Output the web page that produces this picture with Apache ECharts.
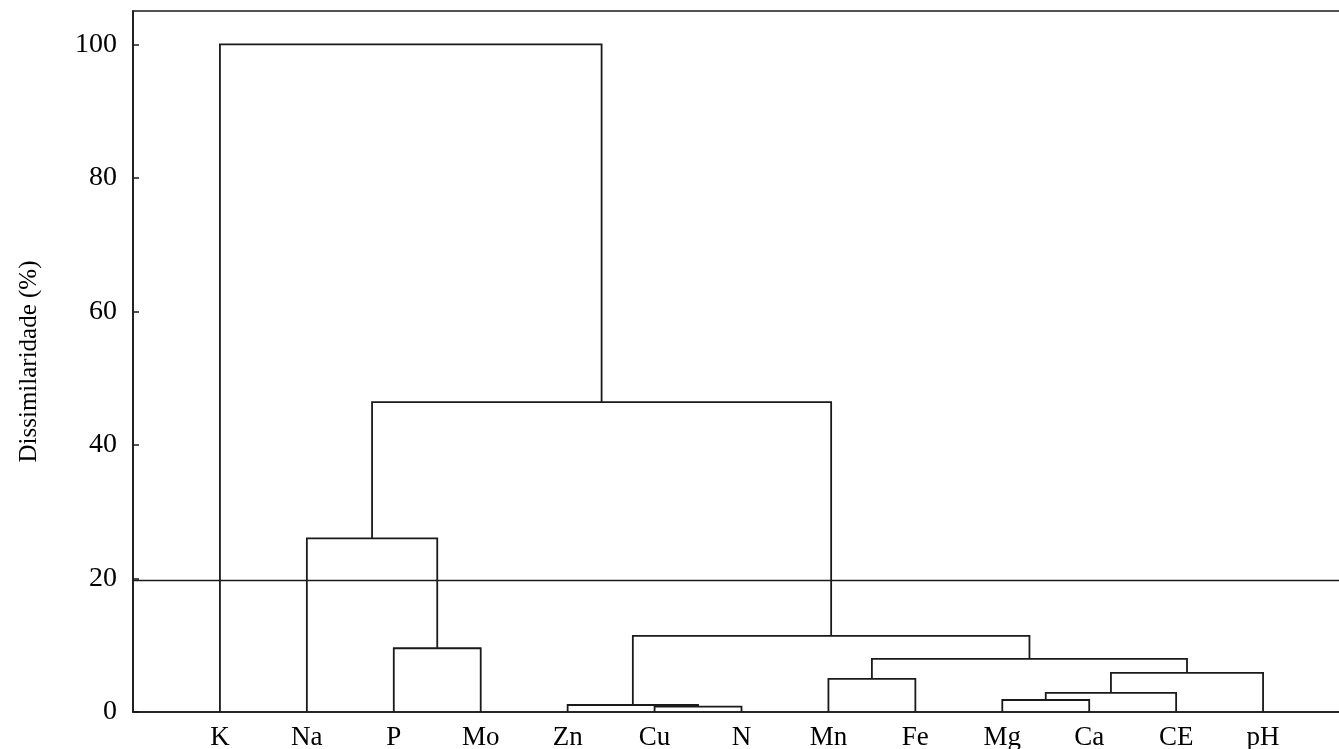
<!DOCTYPE html>
<html>
<head>
<meta charset="utf-8">
<script src="https://cdn.jsdelivr.net/npm/echarts@6/dist/echarts.min.js"></script>
<style>
    html, body { margin: 0; padding: 0; background: #fff; }
    #chart { width: 1339px; height: 749px; }
</style>
</head>
<body>
<div id="chart"></div>
<script>
// leaves in plot order (x = 1..13)
const leaves = ["K", "Na", "P", "Mo", "Zn", "Cu", "N", "Mn", "Fe", "Mg", "Ca", "CE", "pH"];
// merges: [node a, node b, height]; nodes 0-12 are leaves, merge i makes node 13+i
const merges = [
    [5, 6, 0.8],     // Cu + N
    [4, 13, 1.05],   // Zn + (Cu,N)
    [9, 10, 1.8],    // Mg + Ca
    [15, 11, 2.85],  // + CE
    [16, 12, 5.85],  // + pH
    [7, 8, 4.95],    // Mn + Fe
    [18, 17, 7.95],
    [14, 19, 11.4],
    [2, 3, 9.55],    // P + Mo
    [1, 21, 26.0],   // Na + (P,Mo)
    [22, 20, 46.4],
    [0, 23, 100],    // K + rest
];
const cutLevel = 19.7;
const yTicks = [0, 20, 40, 60, 80, 100];

const fontFamily = "Liberation Serif";
const lineColor = "#1a1a1a";

// build the dendrogram branches in data coordinates
let nodeX = leaves.map((item, i) => i + 1);
let nodeH = leaves.map(() => 0);
let branches = [];
merges.forEach(([a, b, h]) => {
    branches.push({
        coords: [[nodeX[a], nodeH[a]], [nodeX[a], h], [nodeX[b], h], [nodeX[b], nodeH[b]]],
    });
    nodeX.push((nodeX[a] + nodeX[b]) / 2);
    nodeH.push(h);
});

const chart = echarts.init(document.getElementById("chart"));
const option = {
    animation: false,
    grid: {
        left: 133,
        top: 11,
        width: 1217,
        height: 701,
        outerBoundsMode: "none",
        containLabel: false,
        show: true,
        borderColor: lineColor,
        borderWidth: 1.6,
        backgroundColor: "transparent",
    },
    xAxis: {
        type: "value",
        min: 0,
        max: leaves.length + 1,
        interval: 1,
        splitLine: { show: false },
        axisTick: { show: false },
        axisLine: { show: true, lineStyle: { color: lineColor, width: 1.6 } },
        axisLabel: {
            margin: 12,
            color: "#000",
            fontFamily: fontFamily,
            fontSize: 27,
            formatter: (v) => leaves[v - 1] || "",
        },
    },
    yAxis: {
        type: "value",
        min: 0,
        max: 105,
        name: "Dissimilaridade (%)",
        nameLocation: "middle",
        nameGap: 91,
        nameTextStyle: { color: "#000", fontFamily: fontFamily, fontSize: 25 },
        splitLine: { show: false },
        axisLine: { show: true, lineStyle: { color: lineColor, width: 1.6 } },
        axisTick: {
            inside: true,
            length: 6,
            customValues: yTicks,
            lineStyle: { color: lineColor, width: 1.5 },
        },
        axisLabel: {
            margin: 16,
            color: "#000",
            fontFamily: fontFamily,
            fontSize: 28,
            customValues: yTicks,
        },
    },
    series: [
        {
            type: "lines",
            coordinateSystem: "cartesian2d",
            polyline: true,
            silent: true,
            lineStyle: { color: lineColor, width: 1.8, opacity: 1 },
            data: branches,
        },
        {
            type: "line",
            silent: true,
            symbol: "none",
            lineStyle: { color: lineColor, width: 1.4 },
            data: [[0, cutLevel], [leaves.length + 1, cutLevel]],
        },
    ],
};
chart.setOption(option);
</script>
</body>
</html>
